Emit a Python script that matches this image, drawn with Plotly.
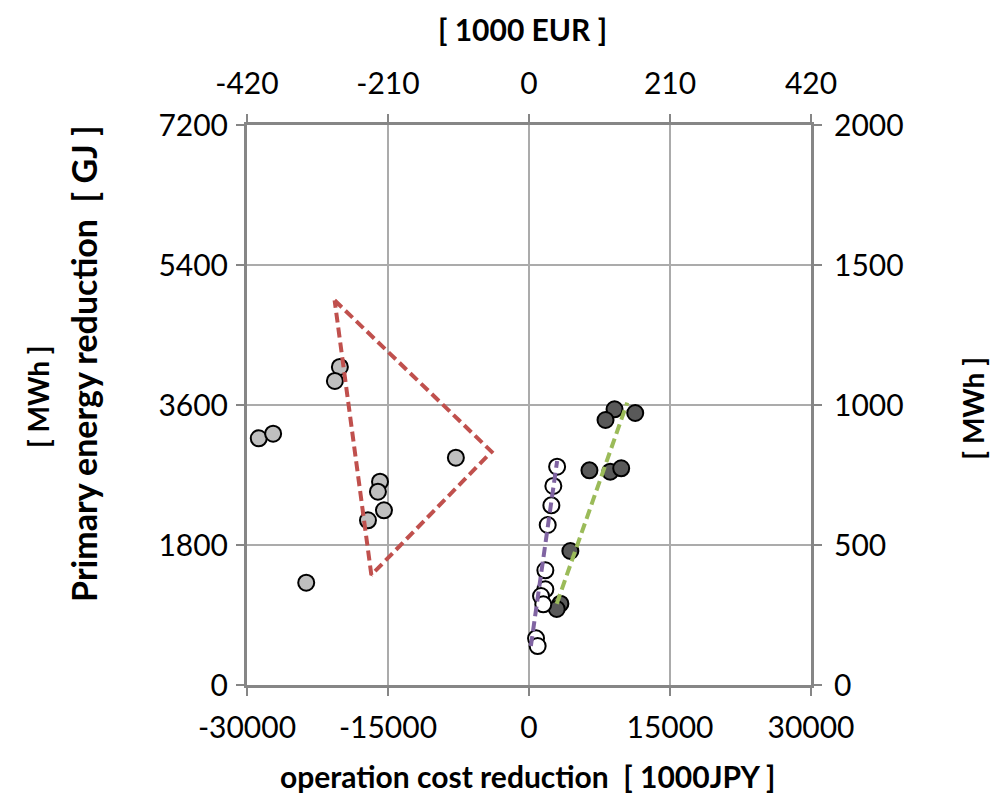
import plotly.graph_objects as go

# ---- data (x: operation cost reduction [1000 JPY], y: primary energy reduction [GJ]) ----
grey_x = [-20120, -20650, -28750, -27220, -7780, -15850, -16070, -15430, -17130, -23700]
grey_y = [4089, 3909, 3172, 3231, 2922, 2614, 2485, 2246, 2118, 1315]

dark_x = [9100, 8140, 11300, 6430, 8640, 9810, 4400, 3340, 2950]
dark_y = [3545, 3407, 3497, 2760, 2742, 2786, 1723, 1045, 977]

white_x = [2990, 2590, 2380, 1990, 1740, 1740, 1280, 1520, 750, 920]
white_y = [2807, 2559, 2310, 2057, 1475, 1230, 1144, 1037, 600, 501]

tri_x = [-20680, -3980, -16770, -20680]
tri_y = [4946, 3000, 1414, 4946]

purple_x = [200, 2990]
purple_y = [501, 2880]

green_x = [2950, 10450]
green_y = [1045, 3630]

x_ticks = [-30000, -15000, 0, 15000, 30000]
y_ticks = [0, 1800, 3600, 5400, 7200]
eur_ticks = [-420, -210, 0, 210, 420]
mwh_ticks = [0, 500, 1000, 1500, 2000]

FONT = "Lato"
AX = "#868686"
GRID = "#ABABAB"

fig = go.Figure()

mk = dict(size=16, line=dict(color="black", width=2))
fig.add_trace(go.Scatter(x=grey_x, y=grey_y, mode="markers",
                         marker=dict(color="#BFBFBF", **mk), showlegend=False))
fig.add_trace(go.Scatter(x=dark_x, y=dark_y, mode="markers",
                         marker=dict(color="#595959", **mk), showlegend=False))
fig.add_trace(go.Scatter(x=white_x, y=white_y, mode="markers",
                         marker=dict(color="white", **mk), showlegend=False))

DASH = "10px,5px"
fig.add_trace(go.Scatter(x=tri_x, y=tri_y, mode="lines",
                         line=dict(color="#C0504D", width=4, dash=DASH), showlegend=False))
fig.add_trace(go.Scatter(x=purple_x, y=purple_y, mode="lines",
                         line=dict(color="#8064A2", width=4, dash=DASH), showlegend=False))
fig.add_trace(go.Scatter(x=green_x, y=green_y, mode="lines",
                         line=dict(color="#9BBB59", width=4, dash=DASH), showlegend=False))

# dummy trace for secondary axes
fig.add_trace(go.Scatter(x=[None], y=[None], xaxis="x2", yaxis="y2", showlegend=False,
                         hoverinfo="skip"))

tickfont = dict(family=FONT, size=30, color="black")
htitle = dict(family=FONT, size=30, color="black", weight="bold")
vtitle = dict(family=FONT, size=34, color="black", weight="bold")
mwhfont = dict(family=FONT, size=28, color="black", weight="bold")

common = dict(zeroline=False, showline=True, linecolor=AX, linewidth=3,
              ticks="outside", ticklen=8, tickcolor=AX, tickwidth=2, tickfont=tickfont)

fig.update_layout(
    width=994, height=787,
    margin=dict(l=239, r=191, t=117, b=110),
    paper_bgcolor="white", plot_bgcolor="white",
    showlegend=False,
    xaxis=dict(range=[-30000, 30000], tickvals=x_ticks, ticktext=[str(v) for v in x_ticks],
               showgrid=True, gridcolor=GRID, gridwidth=2, ticklabelstandoff=6, **common),
    yaxis=dict(range=[0, 7200], tickvals=y_ticks, ticktext=[str(v) for v in y_ticks],
               showgrid=True, gridcolor=GRID, gridwidth=2, ticklabelstandoff=2, **common),
    xaxis2=dict(range=[-420, 420], tickvals=eur_ticks, ticktext=[str(v) for v in eur_ticks],
                overlaying="x", side="top", showgrid=False, ticklabelstandoff=8, **common),
    yaxis2=dict(range=[0, 2000], tickvals=mwh_ticks, ticktext=[str(v) for v in mwh_ticks],
                overlaying="y", side="right", showgrid=False, ticklabelstandoff=6, **common),
)

ann = dict(xref="paper", yref="paper", xanchor="center", yanchor="middle", showarrow=False)
fig.add_annotation(text="operation cost reduction  [ 1000JPY ]", x=0.498, y=-0.1625,
                   font=htitle, **ann)
fig.add_annotation(text="[ 1000 EUR ]", x=0.489, y=1.172, font=htitle, **ann)
fig.add_annotation(text="Primary energy reduction  [ GJ ]", x=-0.291, y=0.575,
                   textangle=-90, font=vtitle, **ann)
fig.add_annotation(text="[ MWh ]", x=-0.3706, y=0.516, textangle=-90, font=mwhfont, **ann)
fig.add_annotation(text="[ MWh ]", x=1.287, y=0.495, textangle=-90, font=mwhfont, **ann)

fig.write_html("out.html")
